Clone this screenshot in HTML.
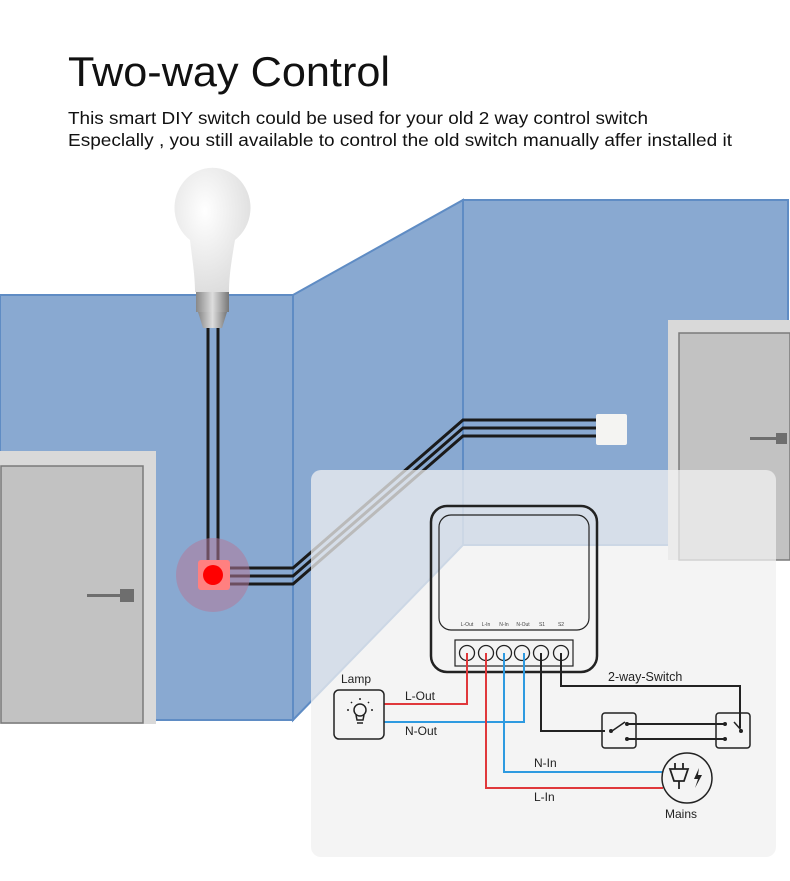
<!DOCTYPE html>
<html><head><meta charset="utf-8"><style>html,body{margin:0;padding:0;background:#fff}svg{display:block}</style></head>
<body>
<svg width="790" height="881" viewBox="0 0 790 881" xmlns="http://www.w3.org/2000/svg" font-family="Liberation Sans, sans-serif">
<rect width="790" height="881" fill="#fff"/>
<text x="68" y="86" font-size="42" fill="#111" textLength="322" lengthAdjust="spacingAndGlyphs">Two-way Control</text>
<text x="68" y="124" font-size="17.5" fill="#111" textLength="580" lengthAdjust="spacingAndGlyphs">This smart DIY switch could be used for your old 2 way control switch</text>
<text x="68" y="146" font-size="17.5" fill="#111" textLength="664" lengthAdjust="spacingAndGlyphs">Especlally , you still available to control the old switch manually affer installed it</text>

<!-- walls -->
<rect x="463" y="200" width="325" height="345" fill="#89a9d1" stroke="#5f8cc4" stroke-width="2"/>
<polygon points="293,295 463,200 463,545 293,720" fill="#89a9d1" stroke="#5f8cc4" stroke-width="2"/>
<rect x="0" y="295" width="293" height="425" fill="#89a9d1" stroke="#5f8cc4" stroke-width="2"/>

<!-- doors -->
<rect x="0" y="451" width="156" height="273" fill="#d9d9d9"/>
<rect x="1" y="466" width="142" height="257" fill="#c2c2c2" stroke="#7a7a7a" stroke-width="1.5"/>
<rect x="87" y="594" width="35" height="3" fill="#6e6e6e"/>
<rect x="120" y="589" width="14" height="13" fill="#6e6e6e"/>
<rect x="668" y="320" width="122" height="240" fill="#d9d9d9"/>
<rect x="679" y="333" width="111" height="227" fill="#c2c2c2" stroke="#7a7a7a" stroke-width="1.5"/>
<rect x="750" y="437" width="30" height="3" fill="#6e6e6e"/>
<rect x="776" y="433" width="11" height="11" fill="#6e6e6e"/>

<!-- bulb -->
<defs>
<radialGradient id="g" cx="0.4" cy="0.35" r="0.7"><stop offset="0" stop-color="#fff"/><stop offset="1" stop-color="#dcdcdc"/></radialGradient>
<linearGradient id="m" x1="0" x2="1"><stop offset="0" stop-color="#888"/><stop offset="0.5" stop-color="#ddd"/><stop offset="1" stop-color="#777"/></linearGradient>
</defs>
<path d="M190,240 A38,40 0 1 1 235,240 C232,258 229,275 229,292 L195,292 C195,275 192,258 190,240 Z" fill="url(#g)"/>
<rect x="196" y="292" width="33" height="20" fill="url(#m)"/>
<path d="M198,312 L227,312 L222,328 L203,328 Z" fill="url(#m)"/>

<!-- wires -->
<g stroke="#1a1a1a" stroke-width="3" fill="none">
<line x1="208" y1="328" x2="208" y2="570"/>
<line x1="218" y1="328" x2="218" y2="570"/>
<polyline points="228,568 293,568 463,420 597,420"/>
<polyline points="228,576 293,576 463,428 597,428"/>
<polyline points="228,584 293,584 463,436 597,436"/>
</g>
<circle cx="213" cy="575" r="37" fill="#b07a9a" opacity="0.55"/>
<rect x="198" y="560" width="32" height="30" rx="3" fill="#ff8080"/>
<circle cx="213" cy="575" r="10" fill="#f00"/>
<rect x="596" y="414" width="31" height="31" rx="2" fill="#f4f4f2"/>

<!-- panel -->
<rect x="311" y="470" width="465" height="387" rx="10" fill="#f0f0f0" fill-opacity="0.75"/>

<!-- module -->
<g fill="none" stroke="#222">
<rect x="431" y="506" width="166" height="166" rx="16" stroke-width="2.5"/>
<rect x="439" y="515" width="150" height="115" rx="12" stroke-width="1.2"/>
<rect x="455" y="640" width="118" height="26" stroke-width="1.2"/>
<g stroke-width="1.3">
<circle cx="467" cy="653" r="7.5"/><circle cx="486" cy="653" r="7.5"/><circle cx="504" cy="653" r="7.5"/>
<circle cx="522" cy="653" r="7.5"/><circle cx="541" cy="653" r="7.5"/><circle cx="561" cy="653" r="7.5"/>
</g>
</g>
<g font-size="5" fill="#444" text-anchor="middle">
<text x="467" y="626">L-Out</text><text x="486" y="626">L-In</text><text x="504" y="626">N-In</text>
<text x="523" y="626">N-Out</text><text x="542" y="626">S1</text><text x="561" y="626">S2</text>
</g>

<!-- circuit wires -->
<g fill="none" stroke-width="2">
<polyline points="384,704 467,704 467,653" stroke="#e0383b"/>
<polyline points="384,722 524,722 524,653" stroke="#2e9ae0"/>
<polyline points="504,653 504,772 663,772" stroke="#2e9ae0"/>
<polyline points="486,653 486,788 663,788" stroke="#e0383b"/>
<polyline points="541,653 541,731 605,731" stroke="#222"/>
<polyline points="561,653 561,686 740,686 740,728" stroke="#222"/>
<line x1="628" y1="724" x2="726" y2="724" stroke="#222"/>
<line x1="628" y1="739" x2="726" y2="739" stroke="#222"/>
</g>
<g fill="none" stroke="#222" stroke-width="1.5">
<rect x="602" y="713" width="34" height="35" rx="3"/>
<rect x="716" y="713" width="34" height="35" rx="3"/>
<line x1="612" y1="731" x2="625" y2="722"/>
<line x1="734" y1="722" x2="742" y2="731"/>
<rect x="334" y="690" width="50" height="49" rx="5"/>
<circle cx="687" cy="778" r="25"/>
</g>
<g fill="#222"><circle cx="611" cy="731" r="2"/><circle cx="627" cy="724" r="2"/><circle cx="627" cy="739" r="2"/>
<circle cx="725" cy="724" r="2"/><circle cx="725" cy="739" r="2"/><circle cx="741" cy="731" r="2"/></g>
<!-- lamp icon -->
<g stroke="#222" stroke-width="1.5" fill="none">
<circle cx="360" cy="710" r="6"/>
<path d="M356,715 L357,720 L363,720 L364,715"/>
<line x1="357" y1="723" x2="363" y2="723"/>
<line x1="360" y1="698" x2="360" y2="700"/><line x1="351" y1="702" x2="352" y2="703"/><line x1="369" y1="702" x2="368" y2="703"/>
<line x1="347" y1="710" x2="349" y2="710"/><line x1="371" y1="710" x2="373" y2="710"/>
</g>
<!-- plug icon -->
<g stroke="#222" stroke-width="1.8" fill="none">
<path d="M670,769 L688,769 L684,781 L674,781 Z"/>
<line x1="675" y1="763" x2="675" y2="769"/><line x1="683" y1="763" x2="683" y2="769"/>
<line x1="679" y1="781" x2="679" y2="789"/>
</g>
<path d="M699,768 L694,779 L698,779 L695,788 L702,775 L698,775 Z" fill="#222"/>

<g font-size="12" fill="#222">
<text x="341" y="683">Lamp</text>
<text x="405" y="700">L-Out</text>
<text x="405" y="735">N-Out</text>
<text x="534" y="767">N-In</text>
<text x="534" y="801">L-In</text>
<text x="665" y="818">Mains</text>
<text x="608" y="681" font-size="12.5">2-way-Switch</text>
</g>
</svg>
</body></html>
